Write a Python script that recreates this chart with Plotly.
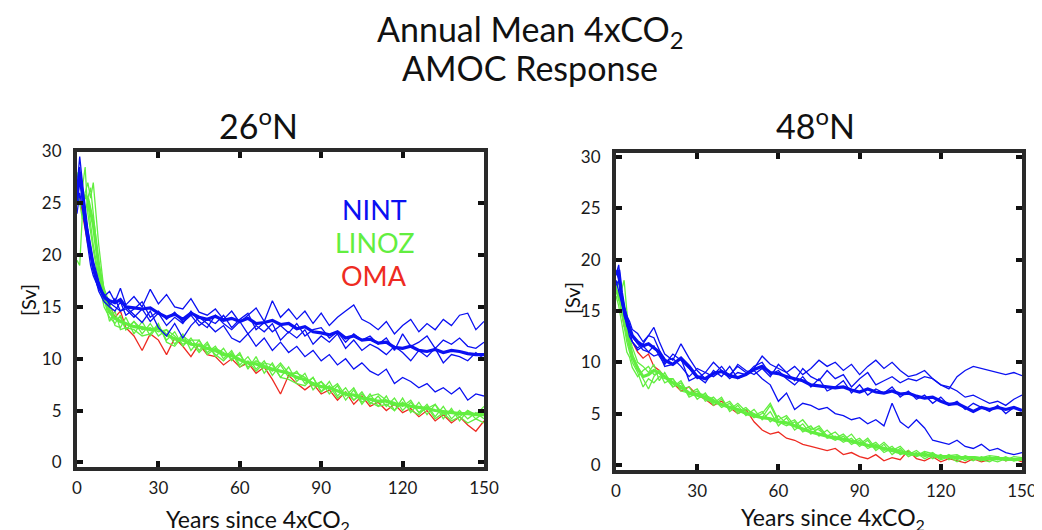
import plotly.graph_objects as go

# ---------------- data (Sv) ----------------
YEARS = [0, 1, 2, 3, 4, 5, 6,
         8, 10, 12, 14, 16, 18,
         21, 24, 27, 30, 33, 36, 39, 42, 45, 48,
         51, 54, 57, 60, 63, 66, 69, 72, 75, 78,
         81, 84, 87, 90, 93, 96, 99, 102, 105, 108,
         111, 114, 117, 120, 123, 126, 129, 132, 135, 138,
         141, 144, 147, 150]

# ----- 26N -----
N26_NINT_1 = [26.5, 29.5, 27.0, 24.5, 22.5, 21.0, 19.5,
              17.5, 16.0, 16.5, 15.5, 16.8, 15.2,
              16.0, 15.0, 16.7, 15.3, 16.2, 15.0, 14.8, 15.8, 14.5, 14.2,
              14.8, 13.8, 14.6, 13.5, 14.2, 14.9, 13.6, 15.6, 14.0, 14.8,
              13.8, 14.6, 13.4, 14.4, 13.2, 14.0, 14.6, 15.2, 13.8, 13.4,
              12.8, 13.6, 12.4, 13.2, 13.8, 12.6, 13.4, 12.8, 13.8, 13.2,
              14.2, 14.4, 12.8, 13.6]
N26_NINT_2 = [25.0, 27.5, 25.5, 23.0, 21.5, 20.0, 18.5,
              16.5, 15.5, 15.0, 14.6, 15.5, 14.2,
              14.8, 15.5, 14.0, 14.6, 13.8, 14.5, 13.5, 14.2, 13.2, 13.8,
              13.4, 14.2, 13.0, 13.8, 14.4, 12.8, 13.5, 12.6, 13.2, 12.5,
              13.4, 12.2, 12.8, 13.0, 12.0, 12.6, 11.6, 12.4, 11.8, 12.2,
              11.4, 12.0, 10.8, 12.4, 11.2, 11.6, 12.2, 11.0, 11.8, 11.4,
              12.0, 11.2, 11.0, 11.6]
N26_NINT_3 = [24.0, 26.0, 24.5, 22.5, 21.0, 19.0, 18.0,
              16.8, 16.2, 15.2, 15.8, 14.6, 15.0,
              14.2, 13.5, 14.6, 13.0, 12.2, 13.4, 12.0, 13.2, 14.0, 13.4,
              12.6, 13.2, 12.0, 11.6, 12.4, 11.2, 12.0, 10.8, 11.6, 10.6,
              11.2, 10.2, 10.8, 9.8, 10.4, 9.4, 10.0, 9.0, 9.6, 8.8,
              8.4, 9.0, 7.6, 8.2, 7.8, 7.2, 7.6, 6.8, 7.2, 6.6,
              7.2, 6.0, 6.6, 6.4]
N26_NINT_4 = [25.5, 28.5, 26.0, 23.5, 22.0, 20.5, 19.0,
              17.0, 15.8, 15.4, 15.0, 14.6, 14.8,
              14.0, 14.8, 13.6, 14.4, 13.2, 14.0, 13.4, 14.6, 13.6, 13.0,
              14.2, 13.4, 12.8, 13.6, 12.4, 13.2, 12.6, 13.4, 11.8, 12.6,
              12.0, 12.8, 11.4, 12.2, 11.6, 12.4, 11.0, 11.8, 10.8, 11.4,
              11.0, 10.4, 11.2, 10.6, 9.8, 10.8, 10.2, 11.0, 9.6, 10.4,
              10.2, 9.8, 10.6, 10.0]
N26_NINT_MEAN = [25.5, 28.0, 25.8, 23.4, 21.8, 20.2, 18.8,
                 17.0, 16.0, 15.6, 15.4, 15.7, 15.0,
                 14.9, 14.8, 14.9, 14.4, 14.0, 14.3, 13.8, 14.4, 14.0, 13.8,
                 14.1, 13.7, 13.9, 13.6, 13.9, 13.4, 13.5, 13.7, 13.3, 13.4,
                 12.9, 13.1, 12.6, 12.5, 12.3, 12.6, 12.0, 12.2, 11.8, 11.9,
                 11.5, 11.6, 11.1, 11.0, 11.2, 10.8, 10.7, 10.9, 10.6, 10.8,
                 10.7, 10.5, 10.4, 10.4]
N26_LINOZ_1 = [28.0, 27.0, 26.5, 28.5, 24.0, 22.0, 20.5,
               17.5, 15.0, 14.0, 13.4, 14.2, 12.8,
               13.6, 12.4, 13.4, 12.2, 12.8, 11.4, 12.4, 10.8, 11.8, 10.6,
               11.2, 10.0, 10.8, 9.4, 10.2, 9.0, 9.8, 8.4, 9.4, 8.2,
               8.8, 7.6, 8.2, 6.8, 7.8, 6.4, 7.2, 6.0, 6.8, 5.6,
               6.4, 5.4, 6.2, 5.0, 5.8, 4.8, 5.6, 4.4, 5.4, 4.2,
               5.0, 4.2, 4.8, 4.2]
N26_LINOZ_2 = [19.5, 19.0, 24.0, 26.0, 27.0, 25.5, 27.0,
               21.0, 16.5, 14.8, 13.2, 13.0, 14.0,
               12.4, 13.6, 12.2, 13.2, 11.8, 12.6, 11.2, 12.0, 10.8, 11.6,
               10.2, 11.0, 9.8, 10.6, 9.0, 10.2, 8.6, 9.6, 8.2, 9.2,
               7.8, 8.6, 7.0, 7.8, 6.6, 7.4, 6.0, 7.0, 5.6, 6.6,
               5.4, 6.4, 5.0, 6.2, 4.8, 5.8, 4.6, 5.6, 4.2, 5.2,
               4.0, 5.0, 4.2, 4.8]
N26_LINOZ_3 = [26.5, 25.0, 23.5, 24.5, 25.0, 23.0, 21.0,
               18.0, 15.8, 13.6, 14.6, 12.8, 13.0,
               12.8, 12.2, 12.4, 13.4, 11.6, 11.2, 12.2, 11.6, 10.6, 11.4,
               10.4, 9.8, 10.6, 9.2, 9.8, 8.8, 9.6, 9.4, 8.2, 8.0,
               7.6, 7.4, 8.2, 6.8, 7.4, 6.2, 6.8, 6.0, 6.6, 5.8,
               5.4, 5.6, 5.0, 5.8, 5.0, 4.6, 5.4, 4.2, 4.8, 4.0,
               4.4, 3.8, 4.2, 3.8]
N26_LINOZ_4 = [27.5, 28.0, 26.0, 24.0, 25.5, 26.5, 24.0,
               19.0, 16.8, 15.2, 13.8, 14.0, 12.8,
               13.6, 12.8, 13.0, 12.6, 12.8, 12.2, 11.4, 11.8, 11.8, 10.4,
               11.0, 10.6, 10.0, 10.4, 9.2, 9.8, 9.4, 8.8, 9.6, 8.6,
               8.6, 8.2, 7.4, 7.8, 7.0, 7.6, 6.4, 7.2, 5.8, 6.4,
               6.6, 6.0, 5.8, 5.4, 6.0, 4.8, 5.2, 5.6, 4.6, 5.0,
               4.4, 5.0, 4.6, 5.4]
N26_LINOZ_MEAN = [25.5, 25.0, 25.0, 25.8, 25.4, 24.2, 23.0,
                  19.0, 16.0, 14.5, 13.9, 13.6, 13.4,
                  13.1, 13.0, 12.8, 12.9, 12.3, 11.9, 11.8, 11.4, 11.3, 11.0,
                  10.8, 10.4, 10.3, 9.9, 9.6, 9.5, 9.2, 9.0, 8.8, 8.6,
                  8.2, 8.0, 7.6, 7.3, 7.2, 6.9, 6.6, 6.5, 6.2, 6.1,
                  5.9, 5.9, 5.6, 5.6, 5.4, 5.3, 5.2, 5.0, 4.9, 4.8,
                  4.7, 4.7, 4.6, 4.6]
N26_OMA = [26.0, 25.5, 24.0, 22.5, 21.0, 20.0, 18.5,
           17.0, 16.4, 15.2, 14.0, 14.6, 13.0,
           12.2, 10.8, 12.4, 11.8, 10.4, 12.0, 11.2, 10.2, 11.4, 10.4,
           10.2, 9.4, 10.0, 9.2, 9.6, 8.6, 9.2, 8.0, 6.6, 8.4,
           7.6, 7.0, 7.6, 6.6, 7.0, 6.0, 6.8, 5.6, 6.4, 5.4,
           5.8, 5.0, 5.6, 4.8, 5.2, 4.4, 5.0, 4.0, 4.6, 3.8,
           4.4, 3.6, 3.0, 4.0]

# ----- 48N -----
N48_NINT_1 = [18.5, 19.5, 17.0, 15.5, 14.5, 14.0, 13.2,
              12.8, 12.0, 12.6, 12.4, 11.2, 10.0,
              10.4, 9.6, 8.6, 9.4, 9.0, 10.0, 9.2, 8.8, 9.6, 9.0,
              9.4, 10.6, 9.8, 9.4, 9.0, 9.6, 8.8, 9.4, 10.2, 9.6,
              10.0, 9.2, 9.8, 8.8, 9.6, 10.2, 9.4, 10.0, 9.2, 8.6,
              8.8, 9.2, 8.4, 7.8, 7.4, 8.6, 9.2, 9.6, 9.4, 9.2,
              9.0, 8.8, 9.0, 8.7]
N48_NINT_2 = [17.5, 18.0, 16.5, 15.0, 14.2, 13.0, 12.0,
              11.4, 11.8, 12.6, 13.4, 12.0, 10.8,
              10.2, 11.8, 10.4, 9.2, 8.4, 8.8, 9.6, 8.6, 9.8, 9.2,
              8.8, 9.4, 8.6, 9.8, 9.0, 8.2, 9.4, 8.6, 8.2, 9.2,
              8.4, 8.8, 7.6, 8.4, 9.0, 7.8, 8.2, 8.6, 8.0, 8.4,
              8.2, 8.6, 8.4, 7.8, 7.6, 7.2, 6.6, 6.8, 6.4, 6.0,
              6.2, 5.8, 6.4, 6.8]
N48_NINT_3 = [18.0, 17.0, 16.0, 14.8, 13.5, 13.0, 12.5,
              11.8, 11.2, 11.0, 11.6, 10.6, 9.8,
              10.8, 10.2, 9.4, 8.4, 9.0, 8.6, 9.2, 8.4, 9.0, 8.8,
              9.2, 8.4, 7.8, 6.2, 7.0, 5.4, 6.0, 5.8, 5.4, 5.6,
              5.0, 4.8, 4.4, 4.6, 4.0, 4.4, 3.8, 6.0, 4.2, 3.6,
              4.4, 3.6, 2.4, 2.2, 2.0, 2.4, 1.8, 1.6, 2.0, 1.4,
              1.6, 1.2, 1.0, 1.2]
N48_NINT_4 = [19.0, 18.0, 16.0, 14.5, 13.8, 12.5, 12.0,
              11.2, 11.6, 11.0, 10.6, 10.8, 9.6,
              9.8, 10.4, 8.2, 8.6, 8.0, 9.2, 8.6, 9.6, 8.4, 8.8,
              9.6, 10.0, 8.8, 9.2, 8.4, 7.8, 8.6, 7.6, 8.4, 7.2,
              7.6, 8.2, 7.0, 7.8, 6.8, 7.4, 7.0, 7.6, 6.6, 7.2,
              6.4, 6.8, 6.0, 6.6, 5.8, 6.2, 5.4, 6.0, 5.6, 5.2,
              5.8, 5.0, 5.6, 5.3]
N48_NINT_MEAN = [18.5, 19.0, 16.8, 15.2, 14.2, 13.4, 12.6,
                 12.0, 11.6, 11.8, 11.4, 11.0, 10.2,
                 9.8, 10.4, 9.6, 8.6, 8.4, 8.9, 9.1, 8.7, 8.5, 8.8,
                 9.3, 9.6, 9.0, 8.9, 8.6, 8.4, 8.2, 7.8, 7.7, 7.6,
                 7.5, 7.6, 7.3, 7.1, 7.4, 7.1, 7.0, 7.2, 6.9, 7.0,
                 6.7, 6.5, 6.6, 6.2, 5.9, 6.0, 5.6, 5.2, 5.6, 5.4,
                 5.6, 5.4, 5.6, 5.3]
N48_LINOZ_1 = [17.0, 18.0, 15.0, 13.5, 12.0, 11.0, 10.0,
               9.0, 7.6, 8.4, 8.0, 8.6, 8.4,
               8.4, 7.2, 7.0, 7.4, 6.2, 6.6, 5.8, 6.2, 5.2, 5.6,
               4.8, 5.2, 4.2, 4.8, 4.0, 4.4, 3.4, 3.8, 2.8, 3.4,
               2.6, 3.0, 2.2, 2.6, 1.8, 2.2, 1.4, 1.8, 1.0, 1.4,
               0.8, 1.2, 0.6, 1.0, 0.5, 0.9, 0.4, 0.8, 0.5, 0.3,
               0.7, 0.4, 0.6, 0.5]
N48_LINOZ_2 = [17.5, 16.0, 17.0, 18.0, 15.0, 12.5, 11.5,
               10.0, 9.6, 9.0, 9.8, 8.2, 9.0,
               7.6, 8.2, 6.8, 7.2, 6.4, 6.0, 6.6, 5.2, 5.8, 4.8,
               5.4, 4.4, 5.2, 3.8, 4.6, 3.4, 4.0, 3.0, 3.6, 2.6,
               2.8, 2.2, 2.6, 1.8, 2.4, 1.4, 2.0, 1.0, 1.6, 0.8,
               1.2, 0.6, 1.0, 0.5, 0.8, 0.3, 0.7, 0.4, 0.8, 0.5,
               0.3, 0.6, 0.4, 0.5]
N48_LINOZ_3 = [16.5, 15.5, 14.0, 12.5, 11.0, 10.5, 9.5,
               8.6, 9.2, 9.6, 8.8, 9.0, 8.0,
               8.4, 7.4, 7.6, 6.4, 7.0, 5.8, 6.4, 5.4, 6.0, 5.2,
               4.6, 5.0, 6.0, 4.4, 4.8, 3.8, 4.4, 3.4, 3.8, 2.8,
               3.2, 2.4, 3.0, 2.0, 2.6, 1.6, 2.2, 1.4, 1.8, 1.0,
               1.4, 0.8, 1.2, 0.6, 1.0, 0.5, 0.9, 0.6, 0.4, 0.8,
               0.5, 0.8, 0.4, 0.7]
N48_LINOZ_4 = [17.0, 16.5, 15.5, 14.0, 12.5, 11.5, 10.5,
               9.6, 8.4, 7.4, 8.6, 9.2, 8.6,
               7.6, 8.0, 6.6, 7.0, 6.8, 6.4, 5.6, 6.0, 5.0, 5.4,
               5.0, 4.6, 5.8, 4.2, 3.8, 4.2, 3.2, 3.6, 3.4, 2.8,
               2.4, 2.8, 2.0, 2.4, 1.6, 2.0, 1.2, 1.6, 1.4, 1.2,
               0.9, 1.3, 1.1, 0.7, 0.9, 1.0, 0.6, 0.8, 0.7, 0.9,
               0.8, 0.5, 0.8, 0.7]
N48_LINOZ_MEAN = [17.0, 16.5, 15.4, 14.2, 12.8, 11.6, 10.6,
                  9.4, 8.6, 8.8, 9.2, 9.0, 8.6,
                  8.0, 7.6, 7.0, 6.8, 6.6, 6.2, 5.9, 5.6, 5.4, 5.0,
                  4.8, 4.6, 4.5, 4.2, 4.1, 3.8, 3.5, 3.2, 3.0, 2.8,
                  2.6, 2.5, 2.3, 2.1, 1.9, 1.8, 1.6, 1.4, 1.2, 1.1,
                  1.0, 1.0, 0.9, 0.8, 0.8, 0.7, 0.7, 0.7, 0.6, 0.6,
                  0.6, 0.6, 0.5, 0.6]
N48_OMA = [17.0, 16.8, 15.0, 13.5, 13.0, 12.6, 12.0,
           11.0, 10.4, 10.8, 9.6, 9.2, 8.6,
           8.0, 7.2, 7.6, 6.8, 6.4, 5.8, 6.2, 5.6, 5.0, 5.4,
           4.2, 3.4, 3.0, 3.2, 2.6, 2.4, 2.0, 1.8, 1.6, 1.4,
           1.6, 1.0, 1.2, 0.8, 0.6, 1.0, 0.4, 0.7, 0.5, 1.4,
           0.6, 0.4, 0.8, 0.3, 0.6, 0.4, 0.2, 0.6, 0.3, 0.5,
           0.8, 0.4, 0.6, 0.3]

X_TICKS = [0, 30, 60, 90, 120, 150]
Y_TICKS = [0, 5, 10, 15, 20, 25, 30]

# ---------------- styling ----------------
W, H = 1042, 530
OFF = 8  # page body margin offset in the rendered page
FONT = "Lato, 'Open Sans', sans-serif"
BLUE = "#0a10f2"
GREEN = "#62ee40"
RED = "#ee2b22"
THIN, THICK = 1.3, 3.2


def px(x):
    return (x - OFF) / W


def py(y):
    return 1 - (y - OFF) / H


fig = go.Figure()

panels = [
    ("x", "y", N26_NINT_1, N26_NINT_2, N26_NINT_3, N26_NINT_4, N26_NINT_MEAN,
     N26_LINOZ_1, N26_LINOZ_2, N26_LINOZ_3, N26_LINOZ_4, N26_LINOZ_MEAN, N26_OMA),
    ("x2", "y2", N48_NINT_1, N48_NINT_2, N48_NINT_3, N48_NINT_4, N48_NINT_MEAN,
     N48_LINOZ_1, N48_LINOZ_2, N48_LINOZ_3, N48_LINOZ_4, N48_LINOZ_MEAN, N48_OMA),
]

for (xa, ya, n1, n2, n3, n4, nm, l1, l2, l3, l4, lm, oma) in panels:
    series = [(oma, RED, THIN)]
    series += [(s, GREEN, THIN) for s in (l1, l2, l3, l4)]
    series += [(lm, GREEN, THICK)]
    series += [(s, BLUE, THIN) for s in (n1, n2, n3, n4)]
    series += [(nm, BLUE, THICK)]
    for vals, col, wid in series:
        fig.add_trace(go.Scatter(x=YEARS, y=vals, mode="lines",
                                 line=dict(color=col, width=wid),
                                 xaxis=xa, yaxis=ya, showlegend=False,
                                 hoverinfo="skip"))

axis_common = dict(showline=True, mirror="allticks", linewidth=4,
                   linecolor="#2a2a2a", ticks="inside", ticklen=6,
                   tickwidth=4, tickcolor="#111111", showgrid=False,
                   zeroline=False, automargin=False,
                   tickfont=dict(family=FONT, size=17, color="#1a1a1a"))

fig.update_layout(
    template="none",
    width=W, height=H, autosize=False,
    margin=dict(l=0, r=0, t=0, b=0, pad=0, autoexpand=False),
    paper_bgcolor="white", plot_bgcolor="white",
    font=dict(family=FONT, color="#111111"),
    showlegend=False,
    xaxis=dict(domain=[px(77), px(484)], range=[0, 150], tickvals=X_TICKS,
               anchor="y", ticklabelstandoff=3, **axis_common),
    yaxis=dict(domain=[py(466.5), py(151.5)], range=[-0.4, 30], tickvals=Y_TICKS,
               anchor="x", ticklabelstandoff=8, **axis_common),
    xaxis2=dict(domain=[px(616), px(1022)], range=[0, 150], tickvals=X_TICKS,
                anchor="y2", ticklabelstandoff=3, **axis_common),
    yaxis2=dict(domain=[py(470), py(153)], range=[-0.5, 30.4], tickvals=Y_TICKS,
                anchor="x2", ticklabelstandoff=8, **axis_common),
)


def ann(text, x, y, size, color="#111111", angle=0):
    fig.add_annotation(text=text, x=px(x), y=py(y), xref="paper", yref="paper",
                       showarrow=False, xanchor="center", yanchor="middle",
                       textangle=angle,
                       font=dict(family=FONT, size=size, color=color))


ann("Annual Mean 4xCO<sub>2</sub>", 530, 31, 34)
ann("AMOC Response", 530, 68, 34)
ann("26<sup>o</sup>N", 258, 124, 34)
ann("48<sup>o</sup>N", 815, 124, 34)
ann("[Sv]", 28, 300, 20, angle=-90)
ann("[Sv]", 572, 298, 20, angle=-90)
ann("Years since 4xCO<sub>2</sub>", 258, 520, 23)
ann("Years since 4xCO<sub>2</sub>", 833, 518, 23)
ann("NINT", 374, 209, 27, BLUE)
ann("LINOZ", 374, 242, 27, GREEN)
ann("OMA", 374, 275, 27, RED)

fig.write_html("out.html")
